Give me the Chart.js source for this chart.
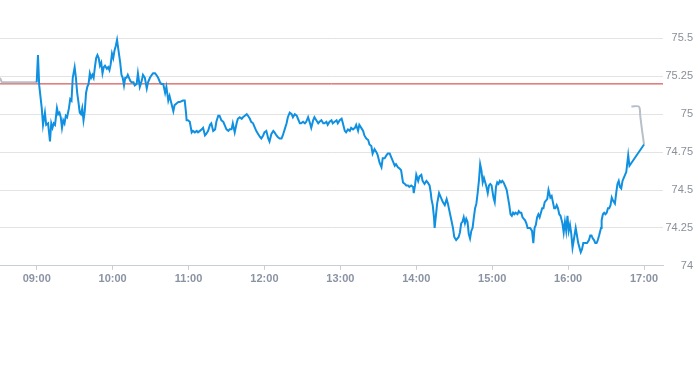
<!DOCTYPE html>
<html>
<head>
<meta charset="utf-8">
<script src="https://cdn.jsdelivr.net/npm/chart.js@4"></script>
<style>
  html, body { margin: 0; padding: 0; background: #ffffff; }
  #wrap { width: 693px; height: 365px; position: relative; }
</style>
</head>
<body>
<div id="wrap"><canvas id="c"></canvas></div>
<script>
// Minutes after 09:00 and prices for the regular session (blue line)
const minutesAfterOpen = [
  0,1,2,4,5,6.5,7.5,9,10.5,11.5,12.5,13.5,14.5,16,17,18,19,20,21,22,23,24,25.5,26.5,27.5,28.5,30,31,32,33,34,35,36,37,38,39,40,41,42,43,44,45,46,47,48,49,50,51,52,53,54,55.5,56.5,57.5,58.5,59.5,60.5,61.5,62.5,63.5,64.5,66,67,68,69,70,71,72,73,74,75,76.5,77.5,79,80,81.5,83,84,85.5,87,88,89.5,91,92,93.5,94.5,96,97.5,98.5,100,101.5,102.5,104,105,106.5,108,109,110.5,112,113,115.5,117,118,118.5,119.5,121,122.5,123.5,125,126.5,127.5,129,130.5,131.5,133,134,135.5,137,138,139.5,141,142,143.5,144.5,146,147.5,148.5,150,151.5,152.5,154,155,156.5,158,159,160.5,162,163,164.5,166,167,168.5,169.5,171,172.5,173.5,175,176.5,177.5,179,180,181.5,183,184,185.5,187,188,189.5,190.5,192,193.5,194.5,196,197.5,198.5,200,201.5,202.5,204,205.5,206.5,208,209,210.5,212,213,214.5,216,217,218.5,219.5,221,222.5,223.5,225,226.5,227.5,229,230,231.5,233,234,235.5,237,238,239.5,241,242,243.5,244.5,246,247.5,248.5,250,251.5,252.5,254,255,256.5,258,259,260.5,262,263,264.5,265.5,267,268.5,269.5,271,272.5,273.5,275,276.5,277.5,279,280.5,281.5,283,284,285.5,287,288,289.5,291,292,293.5,294.5,296,297.5,298,299,300,301.5,302.5,304,305,306.5,308,309,310.5,311.5,312,313,314,314.5,315.5,316.5,318,319,321,322.5,324,325,326.5,327.5,329,330,331.5,332.5,333.5,334.5,335.5,336.5,337.5,338.5,339.5,340.5,341.5,342.5,343.5,344.5,345.5,346.5,347.5,348.5,349.5,350.5,351.5,352.5,353.5,354.5,355.5,356.5,357.5,358.5,359.5,361,362,363,364,365,366,367,368,369,370.5,371.5,372.5,373.5,374.5,375.5,376.5,377.5,378.5,380,381,382,383,384,385,386,387,388,389,390,391.5,392.5,393.5,394.5,395.5,396.5,397.5,398.5,399.5,400.5,401.5,402.5,403.5,404.5,406,407,408,409,410,411,412,413,414,415.5,416.5,417.5,418.5,419.5,420.5,421.5,422.5,423.5,424.5,426,427,428,429,430,431,432,433,434,435,436.5,437.5,438.5,439.5,440.5,441.5,442.5,443.5,444.5,446,446.5,447.5,448.5,449.5,450.5,451.5,452.5,453.5,454.5,455.5,457,458,459,460,461,462,463,464,465,466,467.5,468.5,480
];
const prices = [
  75.21,75.39,75.19,75.04,74.93,75.01,74.93,74.94,74.82,74.94,74.91,74.94,74.93,75.04,75.00,75.01,74.98,74.91,74.96,74.94,74.99,74.98,75.04,75.10,75.09,75.24,75.31,75.24,75.14,75.08,75.01,75.00,75.04,74.96,75.02,75.14,75.18,75.20,75.27,75.24,75.26,75.24,75.31,75.37,75.39,75.37,75.32,75.34,75.27,75.31,75.32,75.30,75.31,75.29,75.33,75.40,75.37,75.42,75.45,75.49,75.43,75.34,75.26,75.24,75.19,75.24,75.24,75.26,75.24,75.22,75.21,75.21,75.19,75.20,75.27,75.18,75.22,75.26,75.24,75.17,75.21,75.24,75.26,75.27,75.27,75.26,75.24,75.21,75.20,75.20,75.14,75.18,75.09,75.12,75.07,75.02,75.06,75.07,75.08,75.08,75.09,75.09,75.01,74.96,74.96,74.95,74.88,74.89,74.88,74.89,74.88,74.89,74.90,74.91,74.86,74.87,74.89,74.93,74.94,74.89,74.90,74.95,74.99,74.99,74.96,74.95,74.93,74.90,74.89,74.90,74.90,74.94,74.88,74.94,74.97,74.98,74.97,74.98,74.99,75.00,74.99,74.97,74.95,74.94,74.91,74.89,74.87,74.85,74.84,74.86,74.88,74.89,74.84,74.82,74.87,74.89,74.88,74.86,74.85,74.84,74.84,74.86,74.90,74.94,74.98,75.01,75.00,74.98,75.00,74.99,74.97,74.94,74.94,74.95,74.94,74.95,74.98,74.94,74.91,74.96,74.98,74.96,74.94,74.95,74.96,74.94,74.94,74.95,74.93,74.95,74.96,74.94,74.95,74.96,74.94,74.96,74.97,74.94,74.89,74.88,74.90,74.89,74.91,74.90,74.91,74.93,74.89,74.93,74.91,74.89,74.86,74.84,74.83,74.80,74.79,74.74,74.77,74.75,74.73,74.68,74.65,74.71,74.71,74.73,74.74,74.74,74.71,74.69,74.66,74.67,74.65,74.64,74.63,74.55,74.54,74.53,74.53,74.52,74.53,74.52,74.48,74.53,74.60,74.56,74.59,74.60,74.56,74.54,74.56,74.55,74.53,74.48,74.44,74.40,74.32,74.25,74.33,74.41,74.48,74.46,74.42,74.40,74.44,74.41,74.35,74.31,74.25,74.19,74.17,74.18,74.19,74.22,74.28,74.29,74.32,74.28,74.31,74.29,74.21,74.18,74.23,74.25,74.32,74.38,74.41,74.48,74.56,74.67,74.63,74.55,74.58,74.55,74.52,74.48,74.53,74.54,74.53,74.45,74.42,74.52,74.55,74.54,74.56,74.55,74.56,74.55,74.52,74.50,74.45,74.40,74.34,74.33,74.35,74.34,74.35,74.34,74.36,74.35,74.35,74.32,74.31,74.30,74.28,74.25,74.25,74.25,74.23,74.15,74.25,74.27,74.32,74.34,74.32,74.35,74.38,74.38,74.42,74.43,74.44,74.50,74.45,74.46,74.42,74.38,74.38,74.40,74.38,74.34,74.33,74.28,74.22,74.29,74.23,74.33,74.23,74.27,74.21,74.12,74.17,74.25,74.20,74.15,74.12,74.09,74.11,74.15,74.15,74.15,74.15,74.17,74.20,74.20,74.18,74.17,74.15,74.15,74.17,74.20,74.25,74.30,74.34,74.35,74.34,74.35,74.38,74.38,74.40,74.45,74.43,74.41,74.48,74.54,74.56,74.52,74.51,74.56,74.58,74.60,74.62,74.73,74.66,74.80
];

// Extended-hours segments (grey line)
const preMinutes = [-29, -27.5, 0];
const prePrices = [75.24, 75.21, 75.21];
const postMinutes = [470, 476, 477, 478.5, 480];
const postPrices = [75.05, 75.05, 74.99, 74.89, 74.80];

// Previous close (red line)
const previousClose = 75.2;

// Axis ticks
const xTickLabels = ['09:00','10:00','11:00','12:00','13:00','14:00','15:00','16:00','17:00'];
const yTickValues = [74, 74.25, 74.5, 74.75, 75, 75.25, 75.5];
const xMin = -29, xMax = 495;

function labelToMinutes(s) {
  const [h, m] = s.split(':').map(Number);
  return (h - 9) * 60 + m;
}
function zip(xs, ys) { return xs.map((x, i) => ({ x: x, y: ys[i] })); }

Chart.defaults.font.family = '"Liberation Sans", Arial, Helvetica, sans-serif';

new Chart(document.getElementById('c'), {
  type: 'line',
  data: {
    datasets: [
      {
        data: zip(minutesAfterOpen, prices),
        borderColor: '#1090e0',
        borderWidth: 2,
        pointRadius: 0,
        tension: 0,
        order: 0
      },
      {
        data: zip(preMinutes, prePrices),
        borderColor: '#b7bfc8',
        borderWidth: 2,
        pointRadius: 0,
        tension: 0,
        order: 1
      },
      {
        data: zip(postMinutes, postPrices),
        borderColor: '#b7bfc8',
        borderWidth: 2,
        pointRadius: 0,
        tension: 0.3,
        order: 1
      },
      {
        data: [{ x: xMin, y: previousClose }, { x: xMax, y: previousClose }],
        borderColor: '#d0312d',
        borderWidth: 1,
        pointRadius: 0,
        order: 2
      }
    ]
  },
  options: {
    responsive: true,
    maintainAspectRatio: false,
    animation: false,
    layout: { padding: { top: 0, bottom: 76, left: 0, right: 0 } },
    plugins: { legend: { display: false }, tooltip: { enabled: false } },
    scales: {
      x: {
        type: 'linear',
        min: xMin,
        max: xMax,
        afterBuildTicks: (scale) => {
          scale.ticks = xTickLabels.map(l => ({ value: labelToMinutes(l), label: l }));
        },
        ticks: {
          autoSkip: false,
          maxRotation: 0,
          color: '#8a93a3',
          font: { size: 11, weight: 'bold' },
          padding: 3,
          callback: function(v) {
            const idx = xTickLabels.findIndex(l => labelToMinutes(l) === v);
            return idx >= 0 ? xTickLabels[idx] : '';
          }
        },
        grid: { drawOnChartArea: false, drawTicks: true, tickLength: 4, color: '#c9cdd6' },
        border: { display: true, color: '#c9cdd6' }
      },
      y: {
        position: 'right',
        min: 74,
        max: 75.69,
        afterBuildTicks: (scale) => {
          scale.ticks = yTickValues.map(v => ({ value: v }));
        },
        afterFit: (scale) => { scale.width = 30; },
        ticks: {
          color: '#8a8f98',
          font: { size: 11 },
          padding: 3,
          crossAlign: 'far',
          callback: (v) => String(v)
        },
        grid: { color: '#e3e3e3', drawTicks: false },
        border: { display: false }
      }
    }
  }
});
</script>
</body>
</html>
